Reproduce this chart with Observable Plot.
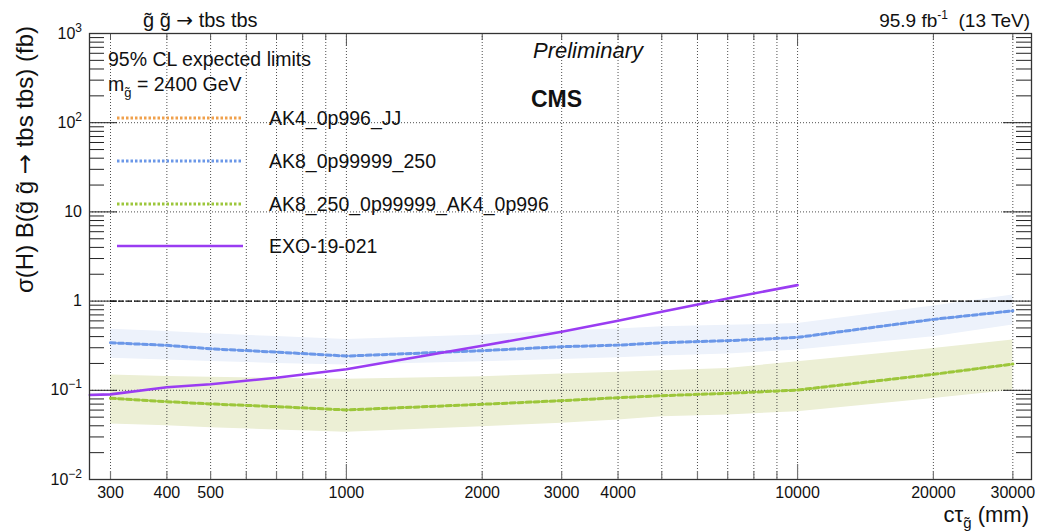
<!DOCTYPE html>
<html>
<head>
<meta charset="utf-8">
<script src="https://cdn.jsdelivr.net/npm/d3@7"></script>
<script src="https://cdn.jsdelivr.net/npm/@observablehq/plot@0.6"></script>
<style>
  body { margin: 0; background: #fff; }
  #chart svg { display: block; }
</style>
</head>
<body>
<div id="chart"></div>
<script>
// Proper decay length of the gluino (mm) at which the expected limits are evaluated
const ctau = [300, 400, 500, 700, 1000, 2000, 3000, 4000, 5000, 7000, 10000, 20000, 30000];

// AK8_0p99999_250: median expected limit and ±1σ band (fb)
const ak8Median = [0.341, 0.319, 0.292, 0.268, 0.242, 0.278, 0.308, 0.321, 0.341, 0.360, 0.392, 0.624, 0.778];
const ak8Up     = [0.482, 0.455, 0.430, 0.400, 0.372, 0.416, 0.465, 0.486, 0.515, 0.535, 0.560, 0.880, 1.170];
const ak8Down   = [0.228, 0.218, 0.210, 0.200, 0.192, 0.209, 0.222, 0.232, 0.242, 0.255, 0.283, 0.398, 0.538];

// AK8_250_0p99999_AK4_0p996: median expected limit and ±1σ band (fb)
const comboMedian = [0.0813, 0.0746, 0.0703, 0.0656, 0.0602, 0.0697, 0.0765, 0.0826, 0.0870, 0.0925, 0.1007, 0.151, 0.197];
const comboUp     = [0.148, 0.143, 0.140, 0.136, 0.133, 0.142, 0.152, 0.159, 0.166, 0.176, 0.209, 0.295, 0.366];
const comboDown   = [0.042, 0.040, 0.038, 0.036, 0.0339, 0.039, 0.0427, 0.0465, 0.0506, 0.053, 0.0575, 0.081, 0.100];

// EXO-19-021 reference limit
const exoCtau  = [270, 300, 400, 500, 700, 1000, 2000, 3000, 4000, 5000, 7000, 10000];
const exoLimit = [0.0886, 0.090, 0.108, 0.117, 0.138, 0.172, 0.316, 0.453, 0.602, 0.759, 1.07, 1.51];

// Legend entries
const seriesNames  = ["AK4_0p996_JJ", "AK8_0p99999_250", "AK8_250_0p99999_AK4_0p996", "EXO-19-021"];
const seriesColors = ["#f0a04b", "#6b97e8", "#9cc63a", "#9a3cf2"];

// Axis ticks
const xGridTicks = [300, 400, 500, 600, 700, 800, 900, 1000, 2000, 3000, 4000, 5000, 6000, 7000, 8000, 9000, 10000, 20000, 30000];
const xMajorTicks = [1000, 10000];
const xTickLabels = [300, 400, 500, 1000, 2000, 3000, 4000, 10000, 20000, 30000];
const yDecades = [0.01, 0.1, 1, 10, 100, 1000];
const yDecadeExp = [-2, -1, 0, 1, 2, 3];
const yGrid = [0.1, 1, 10, 100];
const yMinor = yDecades.slice(0, -1).flatMap(d => [2, 3, 4, 5, 6, 7, 8, 9].map(m => m * d));

const ak8 = ctau.map((x, i) => ({x, med: ak8Median[i], hi: ak8Up[i], lo: ak8Down[i]}));
const combo = ctau.map((x, i) => ({x, med: comboMedian[i], hi: comboUp[i], lo: comboDown[i]}));
const exo = exoCtau.map((x, i) => ({x, y: exoLimit[i]}));

const W = 1038, H = 531;
const mL = 89, mR = 7, mT = 33, mB = 52;
const frameW = W - mL - mR, frameH = H - mT - mB;

const plot = Plot.plot({
  width: W,
  height: H,
  marginLeft: mL,
  marginRight: mR,
  marginTop: mT,
  marginBottom: mB,
  style: {fontFamily: "'Liberation Sans', Arial, sans-serif", fontSize: "16px", background: "#fff", color: "#111"},
  x: {type: "log", domain: [269.5, 33000], axis: null},
  y: {type: "log", domain: [0.01, 1000], axis: null},
  marks: [
    // uncertainty bands
    Plot.areaY(ak8, {x: "x", y1: "lo", y2: "hi", fill: "#edf2fb"}),
    Plot.areaY(combo, {x: "x", y1: "lo", y2: "hi", fill: "#ecefd5"}),
    // dotted grid
    Plot.ruleX(xGridTicks, {stroke: "#222", strokeWidth: 0.8, strokeDasharray: "1,2"}),
    Plot.ruleY(yGrid, {stroke: "#222", strokeWidth: 0.8, strokeDasharray: "1,2"}),
    // x ticks (bottom and top, pointing inward)
    Plot.tickX(xGridTicks.filter(d => !xMajorTicks.includes(d)), {x: d => d, insetTop: frameH - 8, stroke: "#777", strokeWidth: 1.2}),
    Plot.tickX(xMajorTicks, {x: d => d, insetTop: frameH - 15, stroke: "#777", strokeWidth: 1.2}),
    Plot.tickX(xGridTicks.filter(d => !xMajorTicks.includes(d)), {x: d => d, insetBottom: frameH - 7, stroke: "#555", strokeWidth: 1}),
    Plot.tickX(xMajorTicks, {x: d => d, insetBottom: frameH - 13, stroke: "#555", strokeWidth: 1}),
    // y ticks (left and right, pointing inward)
    Plot.tickY(yMinor, {y: d => d, insetRight: frameW - 15, stroke: "#222", strokeWidth: 1}),
    Plot.tickY(yDecades, {y: d => d, insetRight: frameW - 28, stroke: "#222", strokeWidth: 1}),
    Plot.tickY(yMinor, {y: d => d, insetLeft: frameW - 15, stroke: "#222", strokeWidth: 1}),
    Plot.tickY(yDecades, {y: d => d, insetLeft: frameW - 28, stroke: "#222", strokeWidth: 1}),
    // unit cross-section reference
    Plot.ruleY([1], {x1: 300, x2: 30000, stroke: "#000", strokeWidth: 1.4, strokeDasharray: "6,2"}),
    // expected limits
    Plot.line(ak8, {x: "x", y: "med", stroke: seriesColors[1], strokeWidth: 3, strokeDasharray: "5,3"}),
    Plot.line(combo, {x: "x", y: "med", stroke: seriesColors[2], strokeWidth: 3, strokeDasharray: "5,3"}),
    Plot.line(exo, {x: "x", y: "y", stroke: seriesColors[3], strokeWidth: 2.6}),
    // frame
    Plot.frame({stroke: "#333", strokeWidth: 1.3}),
    // x tick labels
    Plot.text(xTickLabels, {x: d => d, frameAnchor: "bottom", dy: 13, text: d => String(d), fontSize: 16, fill: "#111", lineAnchor: "middle"})
  ]
});

document.getElementById("chart").appendChild(plot);

const svg = d3.select(plot);
const yScale = plot.scale("y");
const font = "'Liberation Sans', Arial, sans-serif";
const arrowFont = "'DejaVu Sans', sans-serif";
const g = svg.append("g").attr("font-family", font).attr("fill", "#111").attr("text-anchor", "start");

// y tick labels as powers of ten
yDecades.forEach((v, i) => {
  const e = yDecadeExp[i];
  const t = g.append("text")
    .attr("x", 82)
    .attr("y", yScale.apply(v))
    .attr("dy", "0.35em")
    .attr("text-anchor", "end")
    .attr("font-size", 16);
  if (e === 0) t.text("1");
  else if (e === 1) t.text("10");
  else {
    t.append("tspan").text("10");
    t.append("tspan").attr("dy", -7).attr("font-size", 12).text(e < 0 ? "\u2212" + Math.abs(e) : String(e));
  }
});

// headers
const title = g.append("text").attr("x", 143).attr("y", 27).attr("font-size", 20);
title.append("tspan").text("g\u0303 g\u0303 ");
title.append("tspan").attr("font-family", arrowFont).text("\u2192");
title.append("tspan").text(" tbs tbs");
const lumi = g.append("text").attr("x", 1030).attr("y", 27).attr("font-size", 19).attr("text-anchor", "end");
lumi.append("tspan").text("95.9 fb");
lumi.append("tspan").attr("dy", -8).attr("font-size", 12).text("-1");
lumi.append("tspan").attr("dy", 8).text("\u00a0 (13 TeV)");

// annotations inside the frame
g.append("text").attr("x", 108).attr("y", 66).attr("font-size", 19.5).text("95% CL expected limits");
const mass = g.append("text").attr("x", 108).attr("y", 91).attr("font-size", 19.5);
mass.append("tspan").text("m");
mass.append("tspan").attr("dy", 6).attr("font-size", 13).text("g\u0303");
mass.append("tspan").attr("dy", -6).text(" = 2400 GeV");
g.append("text").attr("x", 533).attr("y", 58).attr("font-size", 22).attr("font-style", "italic").text("Preliminary");
g.append("text").attr("x", 531).attr("y", 107).attr("font-size", 23).attr("font-weight", "bold").text("CMS");

// legend
const legendY = [118, 161, 204, 246];
seriesNames.forEach((name, i) => {
  g.append("line")
    .attr("x1", 117).attr("x2", 243)
    .attr("y1", legendY[i]).attr("y2", legendY[i])
    .attr("stroke", seriesColors[i])
    .attr("stroke-width", i === 3 ? 2.4 : 3)
    .attr("stroke-dasharray", i === 3 ? null : "2.5,2");
  g.append("text").attr("x", 269).attr("y", legendY[i]).attr("dy", "0.36em").attr("font-size", 19.5).text(name);
});

// axis titles
const xt = g.append("text").attr("x", 1029).attr("y", 522).attr("font-size", 22).attr("text-anchor", "end");
xt.append("tspan").text("c\u03c4");
xt.append("tspan").attr("dy", 6).attr("font-size", 15).text("g\u0303");
xt.append("tspan").attr("dy", -6).text(" (mm)");

const yt = g.append("text")
  .attr("transform", "translate(33,26) rotate(-90)")
  .attr("text-anchor", "end")
  .attr("font-size", 24);
yt.append("tspan").text("\u03c3(H) B(g\u0303 g\u0303 ");
yt.append("tspan").attr("font-family", arrowFont).text("\u2192");
yt.append("tspan").text(" tbs tbs) (fb)");
</script>
</body>
</html>
